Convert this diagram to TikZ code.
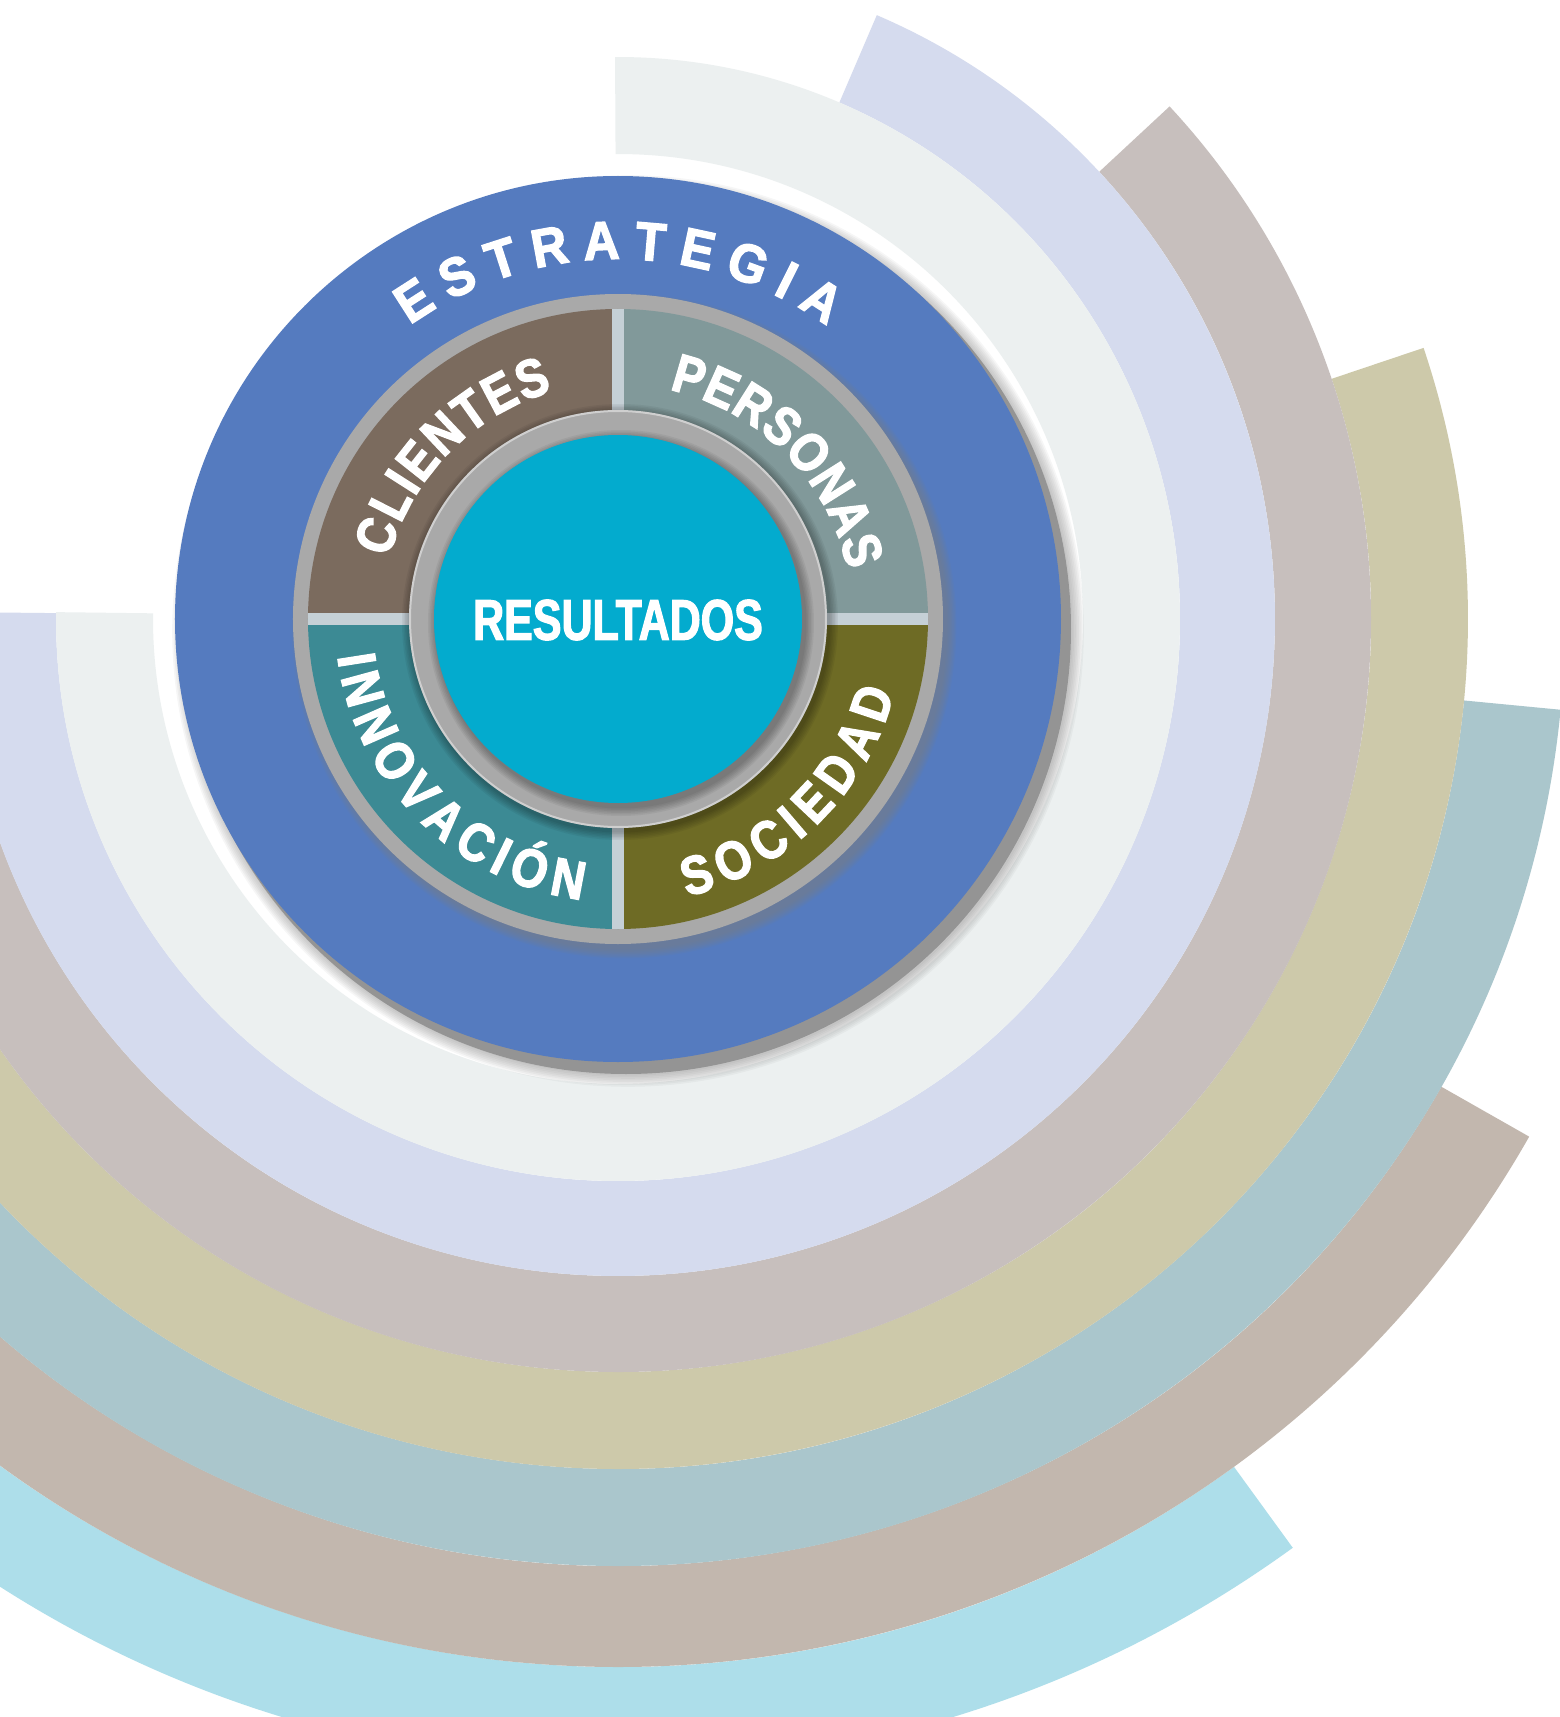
\documentclass[tikz,border=0pt]{standalone}
\usepackage{fontspec}
\usetikzlibrary{decorations.text}
\newfontfamily\estfont{Liberation Sans}[FakeStretch=0.92,FakeBold=2.5]
\newfontfamily\quadfont{Liberation Sans}[FakeStretch=0.86,FakeBold=2.5]
\newfontfamily\resfont{Liberation Sans}[FakeStretch=0.75,FakeBold=2]
\newcommand\estfmt{\estfont\bfseries\fontsize{54pt}{60pt}\selectfont}
\newcommand\quadfmt{\quadfont\bfseries\fontsize{54pt}{60pt}\selectfont}
\definecolor{bandA}{HTML}{ECF0F0}
\definecolor{bandB}{HTML}{D5DBEE}
\definecolor{bandC}{HTML}{C7BFBD}
\definecolor{bandD}{HTML}{CDC9AA}
\definecolor{bandE}{HTML}{AAC6CC}
\definecolor{bandF}{HTML}{C2B7AE}
\definecolor{bandG}{HTML}{ADDEEA}
\definecolor{estblue}{HTML}{557BBF}
\definecolor{qcli}{HTML}{7B6B5E}
\definecolor{qper}{HTML}{81999A}
\definecolor{qinn}{HTML}{3C8A94}
\definecolor{qsoc}{HTML}{6E6B25}
\definecolor{sepcol}{HTML}{C5D0D6}
\definecolor{rescyan}{HTML}{03ABCE}
\definecolor{rimgray}{HTML}{A9A9A9}
\newcommand\ringband[5]{\fill[#1] (#4:#2pt) arc[start angle=#4, end angle=#5, radius=#2pt] -- (#5:#3pt) arc[start angle=#5, end angle=#4, radius=#3pt] -- cycle;}
\begin{document}
\begin{tikzpicture}[x=1pt,y=1pt,
  arctext/.style={decorate, decoration={text along path, text color=white, text align=fit to path, text={#1}}}]
\useasboundingbox (-618,-1098) rectangle (942,619);
\clip (-618,-1098) rectangle (942,619);
\fill[white] (-618,-1098) rectangle (942,619);
% outer bands
\ringband{bandG}{1048}{1148}{-54}{-182}
\ringband{bandF}{947}{1048}{-29.6}{-182}
\ringband{bandE}{850}{947}{-5.5}{-182}
\ringband{bandD}{753}{850}{18.6}{-182}
\ringband{bandC}{657}{753}{42.9}{-182}
\ringband{bandB}{562}{657}{66.8}{-180.6}
\ringband{bandA}{465}{562}{90.3}{-180.7}
% shadow of strategy circle
\fill[rimgray] (8,-10) circle[radius=445pt];
\foreach \k in {1,...,8}{\fill[gray, opacity=0.07] (10,-12) circle[radius=443pt+\k*1.6pt];}
% strategy circle
\fill[estblue] (0,0) circle[radius=443pt];
\path[arctext={|\estfmt|ESTRATEGIA}] (125.3:360pt) arc[start angle=125.3, end angle=54.5, radius=360pt];
% rim shadow and rim
\foreach \k in {1,...,8}{\fill[gray, opacity=0.09] (6,-7) circle[radius=322pt+\k*1.3pt];}
\fill[rimgray] (0,0) circle[radius=325pt];
% quadrants
\ringband{qcli}{200}{310}{90}{180}
\ringband{qper}{200}{310}{0}{90}
\ringband{qinn}{200}{310}{180}{270}
\ringband{qsoc}{200}{310}{270}{360}
\begin{scope}
  \clip (0,0) circle[radius=310pt];
  \fill[sepcol] (-6,-320) rectangle (6,320);
  \fill[sepcol] (-320,-6) rectangle (320,6);
\end{scope}
% quadrant texts
\path[arctext={|\quadfmt|CLIENTES}] (165:237pt) arc[start angle=165, end angle=106, radius=237pt];
\path[arctext={|\quadfmt|PERSONAS}] (77.4:235pt) arc[start angle=77.4, end angle=12, radius=235pt];
\path[arctext={|\quadfmt|INNOVACI{Ó}N}] (187.6:283pt) arc[start angle=187.6, end angle=262.6, radius=283pt];
\path[arctext={|\quadfmt|SOCIEDAD}] (284:286pt) arc[start angle=284, end angle=345, radius=286pt];
% inner ring
\foreach \k in {1,...,6}{\fill[black, opacity=0.05] (2,-3) circle[radius=209pt+\k*1.5pt];}
\fill[rimgray] (0,0) circle[radius=209pt];
\draw[white, opacity=0.45, line width=2pt] (0,0) circle[radius=208pt];
\foreach \k in {1,...,6}{\fill[black, opacity=0.05] (3,-4) circle[radius=184pt+\k*1.5pt];}
\fill[rescyan] (0,0) circle[radius=184pt];
\node[text=white, inner sep=0pt] (res) at (0,-1) {\resfont\bfseries\fontsize{57.3pt}{60pt}\selectfont RESULTADOS};
\end{tikzpicture}
\end{document}
